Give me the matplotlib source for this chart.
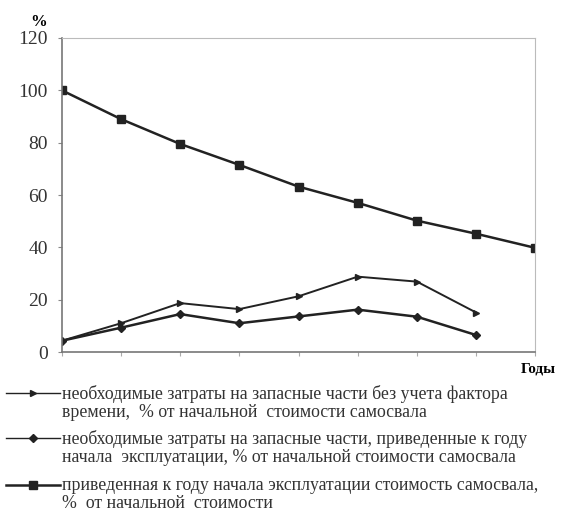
import numpy as np
import matplotlib.pyplot as plt
from matplotlib.lines import Line2D

plt.rcParams['font.family'] = ['Liberation Serif', 'DejaVu Serif']

years = np.arange(1, 10)
# стоимость самосвала, приведенная к году начала эксплуатации, %
value = [100, 89, 79.5, 71.5, 63.2, 57, 50.2, 45.2, 39.8]
# затраты на запасные части без учета фактора времени, %
parts_raw = [4.3, 11, 18.7, 16.4, 21.3, 28.8, 26.9, 15.1]
# затраты на запасные части, приведенные к году начала эксплуатации, %
parts_disc = [4.3, 9.3, 14.5, 11, 13.6, 16.2, 13.5, 6.5]

yticks = [0, 20, 40, 60, 80, 100, 120]

labels = [
    "необходимые затраты на запасные части без учета фактора\nвремени,  % от начальной  стоимости самосвала",
    "необходимые затраты на запасные части, приведенные к году\nначала  эксплуатации, % от начальной стоимости самосвала",
    "приведенная к году начала эксплуатации стоимость самосвала,\n%  от начальной  стоимости",
]

fig = plt.figure(figsize=(5.67, 5.2), dpi=100)
ax = fig.add_axes([0.109, 0.323, 0.835, 0.604])

c = '#222222'
ax.plot(years, value, color=c, lw=1.8, marker='s', ms=6)
ax.plot(years[:8], parts_raw, color=c, lw=1.4, marker='>', ms=4)
ax.plot(years[:8], parts_disc, color=c, lw=1.8, marker='D', ms=4.5)

ax.set_xlim(1, 9)
ax.set_ylim(0, 120)
ax.set_yticks(yticks)
ax.set_xticks(years)
ax.set_xticklabels([])
ax.tick_params(axis='y', labelsize=14, length=3, color='#888888', pad=7,
               labelcolor='#333333')
ax.tick_params(axis='x', length=3, color='#aaaaaa')
for s in ['top', 'right']:
    ax.spines[s].set_color('#bbbbbb')
for s in ['left', 'bottom']:
    ax.spines[s].set_color('#777777')
    ax.spines[s].set_linewidth(1.2)

fig.text(0.068, 0.958, '%', fontsize=12, fontweight='bold', ha='center', va='center')
fig.text(0.95, 0.29, 'Годы', fontsize=11, fontweight='bold', ha='center', va='center')

# легенда
markers = [('>', 4.5, 1.0), ('D', 4.5, 1.0), ('s', 6, 1.8)]
ys = [0.244, 0.158, 0.067]
for (m, ms, lw), y0, lab in zip(markers, ys, labels):
    fig.add_artist(Line2D([0.01, 0.105], [y0, y0], transform=fig.transFigure,
                          color=c, lw=lw))
    fig.add_artist(Line2D([0.0575], [y0], transform=fig.transFigure,
                          color=c, marker=m, ms=ms, lw=0))
    fig.text(0.11, y0 + 0.016, lab, fontsize=12.8, ha='left', va='top',
             color='#333333', linespacing=1.1)

fig.savefig('out.png', dpi=100)
